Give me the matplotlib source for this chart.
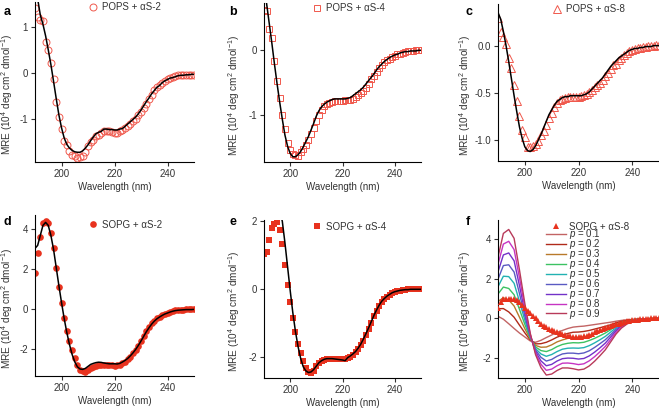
import matplotlib
matplotlib.use("Agg")
import matplotlib.pyplot as plt
import numpy as np

plt.rcParams['font.family'] = ['Liberation Sans', 'DejaVu Sans']
plt.rcParams['mathtext.fontset'] = 'custom'
plt.rcParams['mathtext.rm'] = 'Liberation Sans'
plt.rcParams['mathtext.it'] = 'Liberation Sans:italic'
plt.rcParams['font.size'] = 7

# longitudes de onda (nm)
wl = list(range(190, 251))
wl_e_fit = list(range(196, 251))
wl_f = list(range(190, 251, 2))

# POPS + aS-2
pops2 = [1.40, 1.21, 1.14, 1.11, 0.66, 0.49, 0.21, -0.12, -0.62, -0.95,
         -1.20, -1.46, -1.55, -1.69, -1.76, -1.79, -1.83, -1.82, -1.79, -1.70,
         -1.58, -1.49, -1.44, -1.36, -1.34, -1.29, -1.26, -1.25, -1.26, -1.28,
         -1.30, -1.29, -1.26, -1.22, -1.18, -1.14, -1.09, -1.04, -0.99, -0.91,
         -0.85, -0.75, -0.66, -0.57, -0.48, -0.37, -0.31, -0.26, -0.22, -0.17,
         -0.13, -0.11, -0.09, -0.07, -0.05, -0.05, -0.05, -0.04, -0.04, -0.04,
         -0.04]
pops2_fit = [2.00, 1.60, 1.25, 1.05, 0.80, 0.50, 0.18, -0.18, -0.55, -0.90,
             -1.18, -1.40, -1.54, -1.62, -1.67, -1.70, -1.71, -1.71, -1.68, -1.62,
             -1.55, -1.46, -1.38, -1.31, -1.28, -1.26, -1.21, -1.21, -1.22, -1.22,
             -1.23, -1.23, -1.21, -1.20, -1.15, -1.10, -1.05, -1.00, -0.95, -0.88,
             -0.80, -0.71, -0.62, -0.54, -0.45, -0.38, -0.31, -0.27, -0.21, -0.17,
             -0.14, -0.11, -0.10, -0.08, -0.06, -0.05, -0.05, -0.04, -0.04, -0.03,
             -0.03]

# POPS + aS-4
pops4 = [0.61, 0.59, 0.31, 0.18, -0.18, -0.48, -0.73, -1.00, -1.21, -1.42,
         -1.53, -1.59, -1.61, -1.62, -1.56, -1.51, -1.45, -1.37, -1.28, -1.19,
         -1.08, -0.99, -0.92, -0.86, -0.83, -0.81, -0.79, -0.78, -0.78, -0.78,
         -0.78, -0.77, -0.77, -0.77, -0.75, -0.72, -0.69, -0.66, -0.63, -0.59,
         -0.52, -0.45, -0.40, -0.34, -0.28, -0.23, -0.19, -0.16, -0.14, -0.11,
         -0.09, -0.07, -0.06, -0.05, -0.04, -0.02, -0.02, -0.02, -0.01, -0.01,
         -0.01]
pops4_fit = [0.95, 0.70, 0.40, 0.10, -0.22, -0.52, -0.80, -1.06, -1.30, -1.47,
             -1.58, -1.63, -1.63, -1.60, -1.55, -1.48, -1.40, -1.32, -1.22, -1.12,
             -1.01, -0.93, -0.87, -0.83, -0.80, -0.78, -0.76, -0.75, -0.75, -0.75,
             -0.75, -0.75, -0.74, -0.73, -0.70, -0.67, -0.64, -0.61, -0.57, -0.52,
             -0.47, -0.42, -0.37, -0.31, -0.26, -0.22, -0.18, -0.15, -0.12, -0.10,
             -0.08, -0.07, -0.05, -0.04, -0.03, -0.03, -0.02, -0.02, -0.02, -0.01,
             -0.01]

# POPS + aS-8
pops8 = [0.29, 0.14, 0.09, 0.02, -0.13, -0.24, -0.42, -0.59, -0.74, -0.89,
         -0.97, -1.07, -1.07, -1.06, -1.04, -1.01, -0.95, -0.90, -0.84, -0.77,
         -0.71, -0.65, -0.61, -0.57, -0.56, -0.55, -0.54, -0.54, -0.54, -0.54,
         -0.54, -0.53, -0.52, -0.51, -0.49, -0.47, -0.44, -0.42, -0.39, -0.36,
         -0.32, -0.29, -0.25, -0.21, -0.19, -0.15, -0.13, -0.10, -0.08, -0.06,
         -0.05, -0.04, -0.03, -0.02, -0.01, -0.01, 0.00, 0.00, 0.00, 0.01,
         0.01]
pops8_fit = [0.35, 0.28, 0.15, 0.00, -0.17, -0.35, -0.53, -0.70, -0.86, -0.98,
             -1.07, -1.11, -1.12, -1.10, -1.06, -1.00, -0.94, -0.87, -0.80, -0.73,
             -0.68, -0.63, -0.59, -0.57, -0.55, -0.54, -0.54, -0.53, -0.53, -0.53,
             -0.53, -0.53, -0.52, -0.51, -0.49, -0.46, -0.43, -0.40, -0.37, -0.34,
             -0.30, -0.26, -0.22, -0.19, -0.16, -0.13, -0.11, -0.09, -0.07, -0.05,
             -0.04, -0.03, -0.03, -0.02, -0.02, -0.01, -0.01, -0.01, 0.00, 0.00,
             0.00]

# SOPG + aS-2
sopg2 = [1.80, 2.80, 3.63, 4.33, 4.43, 4.30, 3.80, 3.05, 2.08, 1.13,
         0.30, -0.42, -1.08, -1.57, -2.03, -2.43, -2.78, -3.03, -3.10, -3.12,
         -3.03, -2.95, -2.87, -2.82, -2.77, -2.77, -2.77, -2.78, -2.80, -2.80,
         -2.82, -2.80, -2.77, -2.70, -2.62, -2.50, -2.37, -2.20, -2.03, -1.83,
         -1.57, -1.33, -1.08, -0.87, -0.70, -0.57, -0.45, -0.37, -0.28, -0.22,
         -0.17, -0.12, -0.08, -0.05, -0.03, -0.03, -0.02, 0.00, 0.00, 0.00,
         0.00]
sopg2_fit = [3.05, 3.20, 3.70, 4.20, 4.35, 4.20, 3.70, 3.00, 2.10, 1.20,
             0.35, -0.45, -1.15, -1.75, -2.25, -2.62, -2.87, -2.98, -3.00, -2.95,
             -2.85, -2.75, -2.70, -2.66, -2.64, -2.65, -2.68, -2.70, -2.72, -2.72,
             -2.72, -2.73, -2.70, -2.63, -2.55, -2.45, -2.32, -2.17, -2.00, -1.80,
             -1.58, -1.35, -1.12, -0.92, -0.74, -0.59, -0.47, -0.38, -0.30, -0.23,
             -0.18, -0.13, -0.09, -0.06, -0.04, -0.03, -0.02, -0.01, -0.01, -0.01,
             0.00]

# SOPG + aS-4
sopg4 = [1.02, 1.07, 1.43, 1.77, 1.90, 1.95, 1.73, 1.31, 0.70, 0.12,
         -0.38, -0.87, -1.29, -1.63, -1.88, -2.12, -2.34, -2.44, -2.47, -2.41,
         -2.29, -2.20, -2.13, -2.09, -2.07, -2.06, -2.06, -2.07, -2.08, -2.08,
         -2.08, -2.06, -2.04, -2.00, -1.94, -1.87, -1.78, -1.67, -1.53, -1.36,
         -1.20, -1.00, -0.82, -0.65, -0.51, -0.38, -0.30, -0.24, -0.18, -0.13,
         -0.10, -0.08, -0.06, -0.05, -0.04, -0.02, -0.02, -0.02, -0.02, -0.02,
         -0.02]
sopg4_fit = [2.30, 1.98, 1.35, 0.65, -0.05, -0.70, -1.25, -1.70, -2.05, -2.30,
             -2.42, -2.47, -2.45, -2.38, -2.28, -2.18, -2.12, -2.08, -2.06, -2.06,
             -2.06, -2.07, -2.08, -2.09, -2.10, -2.12, -2.03, -1.98, -1.92, -1.85,
             -1.75, -1.63, -1.48, -1.32, -1.15, -0.97, -0.79, -0.63, -0.49, -0.37,
             -0.29, -0.22, -0.17, -0.12, -0.09, -0.07, -0.05, -0.04, -0.03, -0.03,
             -0.02, -0.02, -0.02, -0.02, -0.02]

# SOPG + aS-8
sopg8 = [0.50, 0.80, 0.95, 1.00, 1.00, 1.00, 0.95, 0.90, 0.82, 0.68,
         0.50, 0.38, 0.25, 0.13, 0.02, -0.12, -0.28, -0.38, -0.46, -0.53,
         -0.58, -0.64, -0.70, -0.75, -0.80, -0.85, -0.88, -0.91, -0.93, -0.94,
         -0.94, -0.93, -0.91, -0.88, -0.83, -0.78, -0.72, -0.66, -0.60, -0.55,
         -0.50, -0.45, -0.40, -0.35, -0.31, -0.27, -0.23, -0.19, -0.16, -0.13,
         -0.11, -0.09, -0.07, -0.05, -0.04, -0.03, -0.02, -0.01, -0.01, 0.00,
         0.00]

# curvas simuladas, una por p
p_labels = ['0.1', '0.2', '0.3', '0.4', '0.5', '0.6', '0.7', '0.8', '0.9']
p_curves = [
    [0.10, -0.05, -0.28, -0.52, -0.75, -0.95, -1.15, -1.22, -1.12, -0.98, -0.85, -0.72, -0.62, -0.52, -0.45, -0.42,
     -0.40, -0.36, -0.32, -0.28, -0.24, -0.20, -0.15, -0.11, -0.08, -0.06, -0.04, -0.03, -0.02, -0.01, 0.00],
    [0.48, 0.49, 0.32, 0.05, -0.35, -0.74, -1.10, -1.30, -1.29, -1.22, -1.10, -0.96, -0.86, -0.77, -0.71, -0.70,
     -0.67, -0.62, -0.55, -0.48, -0.41, -0.33, -0.23, -0.16, -0.11, -0.07, -0.05, -0.03, -0.02, -0.01, 0.00],
    [0.85, 1.04, 0.92, 0.62, 0.05, -0.53, -1.05, -1.38, -1.47, -1.46, -1.35, -1.20, -1.10, -1.02, -0.98, -0.97,
     -0.95, -0.88, -0.79, -0.69, -0.58, -0.45, -0.31, -0.21, -0.14, -0.09, -0.05, -0.04, -0.02, -0.01, 0.00],
    [1.23, 1.58, 1.51, 1.19, 0.45, -0.31, -1.00, -1.46, -1.64, -1.69, -1.59, -1.44, -1.33, -1.27, -1.24, -1.25,
     -1.22, -1.13, -1.02, -0.89, -0.75, -0.58, -0.39, -0.26, -0.16, -0.10, -0.06, -0.04, -0.02, -0.01, 0.00],
    [1.60, 2.13, 2.11, 1.77, 0.85, -0.10, -0.95, -1.54, -1.81, -1.93, -1.84, -1.69, -1.57, -1.52, -1.51, -1.52,
     -1.49, -1.39, -1.25, -1.09, -0.92, -0.70, -0.48, -0.31, -0.19, -0.12, -0.07, -0.04, -0.03, -0.02, -0.01],
    [1.98, 2.67, 2.71, 2.34, 1.25, 0.11, -0.90, -1.61, -1.98, -2.17, -2.09, -1.93, -1.81, -1.77, -1.77, -1.80,
     -1.76, -1.65, -1.48, -1.29, -1.09, -0.83, -0.56, -0.35, -0.22, -0.13, -0.07, -0.04, -0.03, -0.02, -0.01],
    [2.35, 3.21, 3.31, 2.91, 1.65, 0.33, -0.85, -1.69, -2.16, -2.41, -2.34, -2.17, -2.05, -2.02, -2.03, -2.07,
     -2.04, -1.91, -1.72, -1.50, -1.26, -0.95, -0.64, -0.40, -0.25, -0.14, -0.08, -0.05, -0.03, -0.02, -0.01],
    [2.73, 3.76, 3.90, 3.48, 2.05, 0.54, -0.80, -1.77, -2.33, -2.64, -2.58, -2.41, -2.28, -2.27, -2.30, -2.35,
     -2.31, -2.16, -1.95, -1.70, -1.43, -1.08, -0.72, -0.45, -0.27, -0.16, -0.08, -0.05, -0.03, -0.02, -0.01],
    [3.10, 4.30, 4.50, 4.05, 2.45, 0.75, -0.75, -1.85, -2.50, -2.88, -2.83, -2.65, -2.52, -2.52, -2.56, -2.62,
     -2.58, -2.42, -2.18, -1.90, -1.60, -1.20, -0.80, -0.50, -0.30, -0.17, -0.09, -0.05, -0.03, -0.02, -0.01],
]
p_colors = ['#c26464', '#b02a1a', '#b87a2a', '#3cc262', '#22b2b2',
            '#5a5ac2', '#7232c8', '#c634c2', '#b83a5a']

ROJO = '#e8321e'
ROJO_CLARO = '#f0584c'
GRIS = '#333333'

WL_LABEL = 'Wavelength (nm)'
MRE_LABEL = 'MRE (10$^{4}$ deg cm$^{2}$ dmol$^{-1}$)'

# posiciones de los ejes en pixeles: izq, der, arriba, abajo
W, H = 659., 408.


def caja(l, r, t, b):
    return [l / W, (H - b) / H, (r - l) / W, (b - t) / H]


def estilo(ax, ylim, yticks, yfmt, xlab):
    ax.set_xlim(190, 250)
    ax.set_ylim(*ylim)
    ax.set_xticks([200, 220, 240])
    ax.set_yticks(yticks)
    ax.set_yticklabels([yfmt % v for v in yticks])
    for s in ['top', 'right']:
        ax.spines[s].set_visible(False)
    for s in ['left', 'bottom']:
        ax.spines[s].set_linewidth(0.8)
    ax.tick_params(direction='out', length=3, width=0.8, labelsize=7, pad=2, color=GRIS, labelcolor=GRIS)
    ax.set_xlabel(WL_LABEL, fontsize=7, color=GRIS, labelpad=2)
    ax.set_ylabel(MRE_LABEL, fontsize=7.2, color=GRIS)
    ax.yaxis.set_label_coords(xlab, 0.42)


def leyenda(ax, x, y):
    ax.legend(loc='upper left', bbox_to_anchor=(x, y), frameon=False, fontsize=7,
              handletextpad=0.3, borderpad=0, borderaxespad=0, handlelength=1.2,
              labelcolor=GRIS)


fig = plt.figure(figsize=(6.59, 4.08), dpi=100)

# a
ax = fig.add_axes(caja(35, 194, 2, 162))
ax.plot(wl, pops2, 'o', mfc='none', mec=ROJO_CLARO, ms=5, mew=0.7, label='POPS + αS-2')
ax.plot(wl, pops2_fit, color='black', lw=1.1)
estilo(ax, (-1.92, 1.53), [-1, 0, 1], '%g', -0.125)
leyenda(ax, 0.33, 1.0)

# b
ax = fig.add_axes(caja(264, 421, 3, 162))
ax.plot(wl, pops4, 's', mfc='none', mec=ROJO_CLARO, ms=4.8, mew=0.7, label='POPS + αS-4')
ax.plot(wl, pops4_fit, color='black', lw=1.1)
estilo(ax, (-1.71, 0.71), [-1, 0], '%g', -0.137)
leyenda(ax, 0.3, 1.0)

# c
ax = fig.add_axes(caja(498, 659, 4, 161))
ax.plot(wl, pops8, '^', mfc='none', mec=ROJO_CLARO, ms=5.2, mew=0.7, label='POPS + αS-8')
ax.plot(wl, pops8_fit, color='black', lw=1.1)
estilo(ax, (-1.22, 0.44), [-1.0, -0.5, 0.0], '%.1f', -0.155)
leyenda(ax, 0.33, 1.0)

# d
ax = fig.add_axes(caja(35, 194, 215, 376))
ax.plot(wl, sopg2, 'o', color=ROJO, ms=4.8, mew=0, label='SOPG + αS-2')
ax.plot(wl, sopg2_fit, color='black', lw=1.1)
estilo(ax, (-3.33, 4.72), [-2, 0, 2, 4], '%g', -0.125)
leyenda(ax, 0.33, 0.97)

# e
ax = fig.add_axes(caja(264, 421, 220, 378))
ax.plot(wl, sopg4, 's', color=ROJO, ms=4.2, mew=0, label='SOPG + αS-4')
ax.plot(wl_e_fit, sopg4_fit, color='black', lw=1.1)
estilo(ax, (-2.63, 2.02), [-2, 0, 2], '%g', -0.137)
leyenda(ax, 0.3, 0.99)

# f
ax = fig.add_axes(caja(498, 659, 220, 378))
ax.plot(wl, sopg8, '^', color=ROJO, ms=4.5, mew=0, label='SOPG + αS-8', zorder=3)
for vals, lab, col in zip(p_curves, p_labels, p_colors):
    ax.plot(wl_f, vals, color=col, lw=1.0, label='$p$ = ' + lab)
estilo(ax, (-3.03, 4.98), [-2, 0, 2, 4], '%g', -0.155)
ax.legend(loc='upper left', bbox_to_anchor=(0.3, 0.99), frameon=False, fontsize=7,
          handletextpad=0.3, borderpad=0, borderaxespad=0, handlelength=2.0,
          labelspacing=-0.42, labelcolor=GRIS)

# letras de panel
for letra, x, y in [('a', 4, 12), ('b', 229, 12), ('c', 466, 12),
                    ('d', 4, 222), ('e', 229, 222), ('f', 466, 222)]:
    fig.text(x / W, 1 - y / H, letra, fontsize=9, fontweight='bold', va='center', ha='left')

fig.savefig('out.png', dpi=100)
